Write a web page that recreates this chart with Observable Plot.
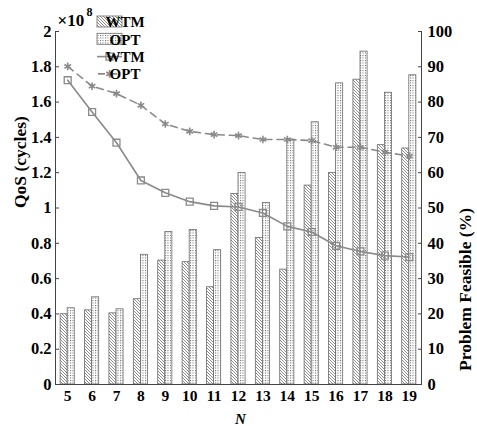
<!DOCTYPE html>
<html><head><meta charset="utf-8">
<script src="https://cdn.jsdelivr.net/npm/d3@7"></script>
<script src="https://cdn.jsdelivr.net/npm/@observablehq/plot@0.6"></script>
<style>body{margin:0;background:#fff}</style>
</head><body><div id="chart"></div>
<script>
const N = [5, 6, 7, 8, 9, 10, 11, 12, 13, 14, 15, 16, 17, 18, 19];
// QoS (cycles), in units of 10^8
const wtmQoS = [0.398, 0.42, 0.403, 0.483, 0.702, 0.693, 0.551, 1.08, 0.83, 0.651, 1.127, 1.199, 1.727, 1.356, 1.337];
const optQoS = [0.432, 0.494, 0.426, 0.735, 0.864, 0.875, 0.761, 1.199, 1.028, 1.388, 1.486, 1.706, 1.886, 1.653, 1.752];
// Problem Feasible (%)
const wtmFeas = [86.2, 77.2, 68.5, 57.8, 54.3, 51.8, 50.6, 50.3, 48.6, 44.8, 43.2, 39.3, 37.7, 36.5, 36.1];
const optFeas = [90.1, 84.5, 82.4, 79.1, 73.8, 71.7, 70.8, 70.5, 69.4, 69.4, 69.1, 67.2, 67.2, 65.8, 64.7];
const leftTicks = [0, 0.2, 0.4, 0.6, 0.8, 1, 1.2, 1.4, 1.6, 1.8, 2];
const rightTicks = [0, 10, 20, 30, 40, 50, 60, 70, 80, 90, 100];
const legendLabels = ["WTM", "OPT", "WTM", "OPT"];

const rows = N.map((n, i) => ({N: n, wtmQ: wtmQoS[i], optQ: optQoS[i], wtmF: wtmFeas[i], optF: optFeas[i]}));
const ratio = 100 / 2; // right axis % per left unit
const half = 0.29;
const gray = "#8a8a8a";
const edge = "#6a6a6a";
const font = "Liberation Serif";
const tf = {fontFamily: font, fontSize: 16.5, fontWeight: "bold", fill: "black"};

const svg = Plot.plot({
  width: 477, height: 426,
  marginLeft: 55, marginRight: 56, marginTop: 31, marginBottom: 42,
  x: {domain: [4.5, 19.5]},
  y: {domain: [0, 2]},
  style: {fontFamily: font, fontSize: "16px", fontWeight: "bold", background: "white", color: "black"},
  marks: [
    Plot.rectY(rows, {x1: d => d.N - half, x2: d => d.N, y: "wtmQ", fill: "url(#hatch)", stroke: edge, strokeWidth: 0.8}),
    Plot.rectY(rows, {x1: d => d.N, x2: d => d.N + half, y: "optQ", fill: "url(#dots)", stroke: edge, strokeWidth: 0.8}),
    Plot.line(rows, {x: "N", y: d => d.optF / ratio, stroke: gray, strokeWidth: 1.6, strokeDasharray: "7,5"}),
    Plot.dot(rows, {x: "N", y: d => d.optF / ratio, symbol: "asterisk", r: 3.6, stroke: gray, strokeWidth: 1.6}),
    Plot.line(rows, {x: "N", y: d => d.wtmF / ratio, stroke: gray, strokeWidth: 1.6}),
    Plot.dot(rows, {x: "N", y: d => d.wtmF / ratio, symbol: "square", r: 3.9, stroke: gray, strokeWidth: 1.3, fill: "none"}),
    Plot.ruleX([4.5, 19.5], {stroke: "#444"}),
    Plot.ruleY([0], {stroke: "#444"}),
    Plot.axisY({anchor: "left", ticks: leftTicks, tickSize: -4, tickPadding: 8, tickFormat: d => String(d), label: null, stroke: "#444", ...tf}),
    Plot.axisY({anchor: "right", ticks: rightTicks.map(v => v / ratio), tickSize: -4, tickPadding: 10, tickFormat: d => String(Math.round(d * ratio)), label: null, stroke: "#444", ...tf}),
    Plot.axisX({ticks: N, tickSize: 0, tickPadding: 5, tickFormat: d => String(d), label: null, ...tf, fontSize: 15.5}),
    Plot.text(["QoS (cycles)"], {frameAnchor: "left", rotate: -90, dx: -35, ...tf, fontSize: 17.5}),
    Plot.text(["Problem Feasible (%)"], {frameAnchor: "right", rotate: -90, dx: 44, ...tf, fontSize: 17.5}),
    Plot.text(["N"], {frameAnchor: "bottom", lineAnchor: "bottom", dy: 39, dx: 2, ...tf, fontSize: 15, fontStyle: "italic"}),
    Plot.text(["×10"], {frameAnchor: "top-left", lineAnchor: "bottom", dy: -6, dx: 2, textAnchor: "start", fontFamily: font, fontSize: 17, fill: "black"}),
    Plot.text(["8"], {frameAnchor: "top-left", lineAnchor: "bottom", dy: -16, dx: 31, textAnchor: "start", fontFamily: font, fontSize: 12, fontWeight: "bold", fill: "black"})
  ]
});

// patterns
const s = d3.select(svg);
const defs = s.insert("defs", ":first-child");
const hatch = defs.append("pattern").attr("id", "hatch").attr("patternUnits", "userSpaceOnUse").attr("width", 3).attr("height", 3);
hatch.append("rect").attr("width", 3).attr("height", 3).attr("fill", "white");
hatch.append("path").attr("d", "M-1,-1L4,4M-1,2L1,4M2,-1L4,1").attr("stroke", "#707070").attr("stroke-width", 0.8);
const dots = defs.append("pattern").attr("id", "dots").attr("patternUnits", "userSpaceOnUse").attr("width", 2.5).attr("height", 2.5);
dots.append("rect").attr("width", 2.5).attr("height", 2.5).attr("fill", "white");
dots.append("rect").attr("width", 1).attr("height", 1).attr("fill", "#606060");

// legend
const lg = s.append("g").attr("font-family", font).attr("font-weight", "bold").attr("font-size", 15);
const lx = 97, lw = 25, tx = 125;
const rowsY = [22, 39.3, 56.6, 73.9];
lg.append("rect").attr("x", lx).attr("y", rowsY[0] - 6).attr("width", lw).attr("height", 11).attr("fill", "url(#hatch)").attr("stroke", edge).attr("stroke-width", 0.8);
lg.append("rect").attr("x", lx).attr("y", rowsY[1] - 6).attr("width", lw).attr("height", 11).attr("fill", "url(#dots)").attr("stroke", edge).attr("stroke-width", 0.8);
lg.append("line").attr("x1", lx).attr("x2", lx + lw).attr("y1", rowsY[2]).attr("y2", rowsY[2]).attr("stroke", gray).attr("stroke-width", 1.6);
lg.append("path").attr("d", d3.symbol(d3.symbolSquare, Math.PI * 3.9 * 3.9)()).attr("transform", `translate(${lx + lw / 2},${rowsY[2]})`).attr("fill", "none").attr("stroke", gray).attr("stroke-width", 1.3);
lg.append("line").attr("x1", lx).attr("x2", lx + lw).attr("y1", rowsY[3]).attr("y2", rowsY[3]).attr("stroke", gray).attr("stroke-width", 1.6).attr("stroke-dasharray", "7,5").attr("stroke-dashoffset", -1);
lg.append("path").attr("d", d3.symbol(d3.symbolAsterisk, Math.PI * 3.6 * 3.6)()).attr("transform", `translate(${lx + lw / 2},${rowsY[3]})`).attr("fill", "none").attr("stroke", gray).attr("stroke-width", 1.6);
legendLabels.forEach((t, i) => {
  lg.append("text").attr("x", tx).attr("y", rowsY[i]).attr("dy", "0.35em").text(t);
});

document.getElementById("chart").appendChild(svg);
</script>
</body></html>
